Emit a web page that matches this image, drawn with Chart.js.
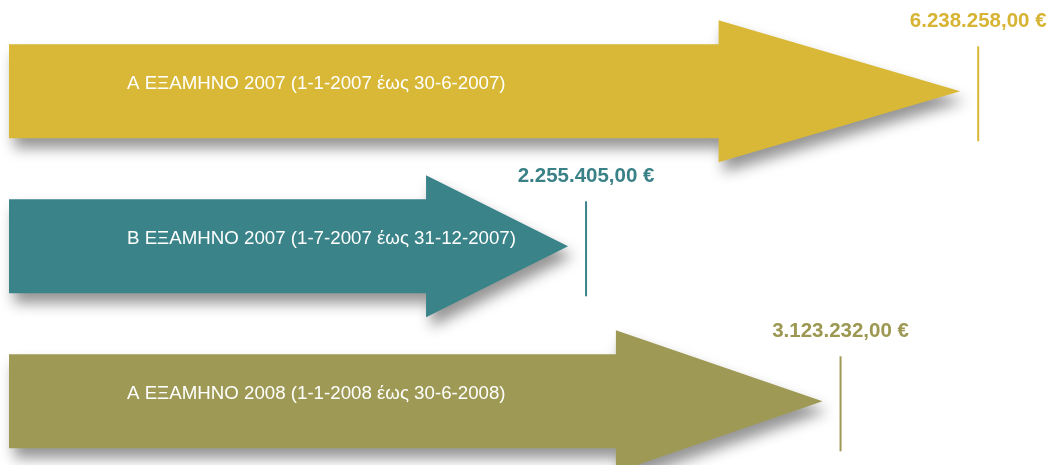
<!DOCTYPE html>
<html>
<head>
<meta charset="utf-8">
<script src="https://cdn.jsdelivr.net/npm/chart.js@4.4.1/dist/chart.umd.min.js"></script>
<style>
html,body{margin:0;padding:0;background:#fff;overflow:hidden;}
#wrap{width:1052px;height:465px;position:relative;}
</style>
</head>
<body>
<div id="wrap"><canvas id="c" width="1052" height="465"></canvas></div>
<script>
// ---- data ----
const categories = [
  "Α ΕΞΑΜΗΝΟ 2007 (1-1-2007 έως 30-6-2007)",
  "Β ΕΞΑΜΗΝΟ 2007 (1-7-2007 έως 31-12-2007)",
  "Α ΕΞΑΜΗΝΟ 2008 (1-1-2008 έως 30-6-2008)"
];
const amounts = [6238258.00, 2255405.00, 3123232.00];
// arrow reach as drawn in the infographic (percent of the axis)
const arrowReach = [91.2, 53.6, 78.0];
const colors = ["#D8B836", "#3A8389", "#9E9A55"];
const labelColors = ["#D7B433", "#3A8187", "#9C9852"];

function fmtEuro(v){
  const parts = v.toFixed(2).split(".");
  const intPart = parts[0].replace(/\B(?=(\d{3})+(?!\d))/g, ".");
  return intPart + "," + parts[1] + " €";
}

const arrowPlugin = {
  id: "arrows",
  afterDatasetsDraw(chart){
    const ctx = chart.ctx;
    const meta = chart.getDatasetMeta(0);
    meta.data.forEach((el, i) => {
      const tip = el.x, base = el.base, cy = el.y;
      const len = tip - base;
      const headLen = len * 0.254;
      const shaftH = 47, headH = 71;
      const hb = tip - headLen;
      ctx.save();
      ctx.shadowColor = "rgba(0,0,0,0.42)";
      ctx.shadowBlur = 14;
      ctx.shadowOffsetX = 5;
      ctx.shadowOffsetY = 10;
      ctx.fillStyle = colors[i];
      ctx.beginPath();
      ctx.moveTo(base, cy - shaftH);
      ctx.lineTo(hb, cy - shaftH);
      ctx.lineTo(hb, cy - headH);
      ctx.lineTo(tip, cy);
      ctx.lineTo(hb, cy + headH);
      ctx.lineTo(hb, cy + shaftH);
      ctx.lineTo(base, cy + shaftH);
      ctx.closePath();
      ctx.fill();
      ctx.restore();

      // inner label
      ctx.save();
      ctx.fillStyle = "#ffffff";
      ctx.font = "18.7px 'Liberation Sans', Arial, sans-serif";
      ctx.textAlign = "left";
      ctx.textBaseline = "middle";
      ctx.fillText(categories[i], base + 118, cy - 7);
      ctx.restore();

      // marker line
      const lx = tip + 18;
      ctx.save();
      ctx.strokeStyle = colors[i];
      ctx.lineWidth = 2;
      ctx.beginPath();
      ctx.moveTo(lx, cy - 45);
      ctx.lineTo(lx, cy + 50);
      ctx.stroke();
      // value label
      ctx.fillStyle = labelColors[i];
      ctx.font = "bold 20.5px 'Liberation Sans', Arial, sans-serif";
      ctx.textAlign = "center";
      ctx.textBaseline = "middle";
      ctx.fillText(fmtEuro(amounts[i]), lx, cy - 70);
      ctx.restore();
    });
  }
};

new Chart(document.getElementById("c"), {
  type: "bar",
  data: {
    labels: categories,
    datasets: [{
      data: arrowReach.map((v, i) => ({x: v, y: i})),
      backgroundColor: "rgba(0,0,0,0)",
      borderWidth: 0
    }]
  },
  options: {
    indexAxis: "y",
    responsive: false,
    animation: false,
    layout: {padding: {left: 9, right: 0, top: 0, bottom: 0}},
    plugins: {legend: {display: false}, tooltip: {enabled: false}},
    scales: {
      x: {type: "linear", min: 0, max: 100, display: false},
      y: {type: "linear", reverse: true, offset: false, min: -0.589, max: 2.411, display: false}
    }
  },
  plugins: [arrowPlugin]
});
</script>
</body>
</html>
